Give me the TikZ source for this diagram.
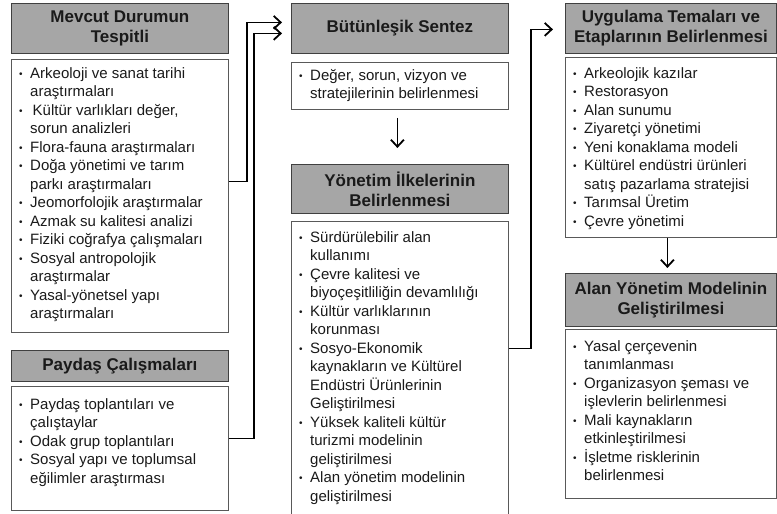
\documentclass[tikz,border=0pt]{standalone}
\usepackage{fontspec}
\setmainfont{Liberation Sans}
\usetikzlibrary{arrows.meta}
\definecolor{hdrgray}{HTML}{A6A6A6}
\definecolor{txtcol}{HTML}{1A1A1A}
\newcommand{\bl}{\makebox[11pt][l]{\raisebox{1.2pt}{\fontsize{10}{10}\selectfont •}}}
\newcommand{\ct}{\hspace*{11pt}}
\newcommand{\fs}{\rule{0pt}{12pt}}
\begin{document}
\begin{tikzpicture}[x=1pt,y=-1pt,
  hdr/.style={draw=black!75, line width=0.8pt, fill=hdrgray, anchor=north west, inner sep=1pt,
    align=center, font=\fontsize{17}{20}\selectfont\bfseries, text=txtcol},
  bodybox/.style={draw=black!65, line width=0.8pt, fill=white, anchor=north west, inner sep=0pt},
  bodytxt/.style={anchor=north west, inner sep=0pt, align=left,
    font=\fontsize{15}{18.5}\selectfont, text=txtcol},
  conn/.style={line width=1.8pt, -{Straight Barb[length=7pt,width=13pt]}}
]
\fill[white] (0,0) rectangle (777,514);
\useasboundingbox (0,0) rectangle (777,514);

% left column
\node[hdr, minimum width=217pt, minimum height=50pt] (h1) at (11,3) {Mevcut Durumun\\Tespitli};
\node[bodybox, minimum width=217pt, minimum height=273pt] (b1) at (11,59) {};
\node[bodytxt] (t1) at ([xshift=8pt,yshift=-7pt]b1.north west) {\fs\bl Arkeoloji ve sanat tarihi\\
\ct araştırmaları\\
\bl\,Kültür varlıkları değer,\\
\ct sorun analizleri\\
\bl Flora-fauna araştırmaları\\
\bl Doğa yönetimi ve tarım\\
\ct parkı araştırmaları\\
\bl Jeomorfolojik araştırmalar\\
\bl Azmak su kalitesi analizi\\
\bl Fiziki coğrafya çalışmaları\\
\bl Sosyal antropolojik\\
\ct araştırmalar\\
\bl Yasal-yönetsel yapı\\
\ct araştırmaları};

\node[hdr, minimum width=217pt, minimum height=31pt] (h2) at (11,350) {Paydaş Çalışmaları};
\node[bodybox, minimum width=217pt, minimum height=124pt] (b2) at (11,386) {};
\node[bodytxt] (t2) at ([xshift=8pt,yshift=-11pt]b2.north west) {\fs\bl Paydaş toplantıları ve\\
\ct çalıştaylar\\
\bl Odak grup toplantıları\\
\bl Sosyal yapı ve toplumsal\\
\ct eğilimler araştırması};

% middle column
\node[hdr, minimum width=217pt, minimum height=50pt] (h3) at (291,3) {Bütünleşik Sentez};
\node[bodybox, minimum width=217pt, minimum height=47pt] (b3) at (291,62) {};
\node[bodytxt] (t3) at ([xshift=8pt,yshift=-6pt]b3.north west) {\fs\bl Değer, sorun, vizyon ve\\
\ct stratejilerinin belirlenmesi};

\node[hdr, minimum width=217pt, minimum height=49pt] (h4) at (291,164) {Yönetim İlkelerinin\\Belirlenmesi};
\node[bodybox, minimum width=217pt, minimum height=297pt] (b4) at (291,221) {};
\node[bodytxt] (t4) at ([xshift=8pt,yshift=-9pt]b4.north west) {\fs\bl Sürdürülebilir alan\\
\ct kullanımı\\
\bl Çevre kalitesi ve\\
\ct biyoçeşitliliğin devamlılığı\\
\bl Kültür varlıklarının\\
\ct korunması\\
\bl Sosyo-Ekonomik\\
\ct kaynakların ve Kültürel\\
\ct Endüstri Ürünlerinin\\
\ct Geliştirilmesi\\
\bl Yüksek kaliteli kültür\\
\ct turizmi modelinin\\
\ct geliştirilmesi\\
\bl Alan yönetim modelinin\\
\ct geliştirilmesi};

% right column
\node[hdr, minimum width=211pt, minimum height=50pt] (h5) at (565,3) {Uygulama Temaları ve\\Etaplarının Belirlenmesi};
\node[bodybox, minimum width=211pt, minimum height=180pt] (b5) at (565,57) {};
\node[bodytxt] (t5) at ([xshift=8pt,yshift=-9pt]b5.north west) {\fs\bl Arkeolojik kazılar\\
\bl Restorasyon\\
\bl Alan sunumu\\
\bl Ziyaretçi yönetimi\\
\bl Yeni konaklama modeli\\
\bl Kültürel endüstri ürünleri\\
\ct satış pazarlama stratejisi\\
\bl Tarımsal Üretim\\
\bl Çevre yönetimi};

\node[hdr, minimum width=211pt, minimum height=53pt] (h6) at (565,273) {Alan Yönetim Modelinin\\Geliştirilmesi};
\node[bodybox, minimum width=211pt, minimum height=169pt] (b6) at (565,329) {};
\node[bodytxt] (t6) at ([xshift=8pt,yshift=-10pt]b6.north west) {\fs\bl Yasal çerçevenin\\
\ct tanımlanması\\
\bl Organizasyon şeması ve\\
\ct işlevlerin belirlenmesi\\
\bl Mali kaynakların\\
\ct etkinleştirilmesi\\
\bl İşletme risklerinin\\
\ct belirlenmesi};

% connectors
\draw[conn] ([yshift=14.5pt]b1.east) -- ++(18,0) |- ([xshift=-9pt,yshift=6pt]h3.west);
\draw[conn] ([yshift=10pt]b2.east) -- ++(25,0) |- ([xshift=-9pt,yshift=-5pt]h3.west);
\draw[conn, shorten <=8pt, shorten >=16pt] ([xshift=-2.5pt]b3.south) -- ([xshift=-2.5pt]h4.north);
\draw[conn] ([yshift=21.5pt]b4.east) -- ++(22,0) |- ([xshift=-12pt,yshift=-1pt]h5.west);
\draw[conn, shorten >=5pt] ([xshift=-3.5pt]b5.south) -- ([xshift=-3.5pt]h6.north);
\end{tikzpicture}
\end{document}
